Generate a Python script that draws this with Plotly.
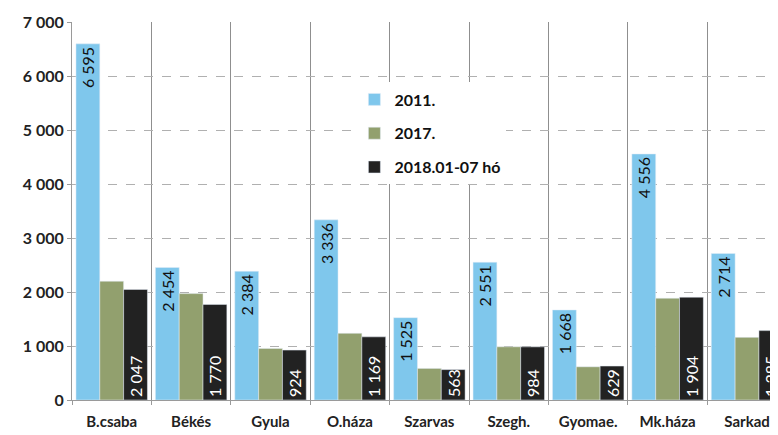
import plotly.graph_objects as go

categories = ["B.csaba", "Békés", "Gyula", "O.háza", "Szarvas", "Szegh.", "Gyomae.", "Mk.háza", "Sarkad"]
series_names = ["2011.", "2017.", "2018.01-07 hó"]
v2011 = [6595, 2454, 2384, 3336, 1525, 2551, 1668, 4556, 2714]
v2017 = [2200, 1970, 955, 1235, 585, 985, 615, 1885, 1160]
v2018 = [2047, 1770, 924, 1169, 563, 984, 629, 1904, 1285]
y_ticks = [0, 1000, 2000, 3000, 4000, 5000, 6000, 7000]

FONT = "Lato"
colors = ["#7FC7EC", "#92A06E", "#222222"]

fig = go.Figure()
fig.add_trace(go.Bar(
    x=categories, y=v2011, name=series_names[0], marker_color=colors[0],
    texttemplate="%{y:,d}", textposition="inside", insidetextanchor="end",
    textangle=-90, textfont=dict(family=FONT, size=16, color="#111111"),
    legendgroup="a"))
fig.add_trace(go.Bar(
    x=categories, y=v2017, name=series_names[1], marker_color=colors[1],
    legendgroup="b"))
fig.add_trace(go.Bar(
    x=categories, y=v2018, name=series_names[2], marker_color=colors[2],
    texttemplate="%{y:,d}", textposition="inside", insidetextanchor="start",
    textangle=-90, textfont=dict(family=FONT, size=16, color="#ffffff"),
    legendgroup="c"))

fig.update_layout(
    width=770, height=427,
    margin=dict(l=64, r=0, t=14, b=35, autoexpand=False),
    paper_bgcolor="white", plot_bgcolor="white",
    barmode="group", bargap=0.1, bargroupgap=0,
    separators=", ",
    uniformtext=dict(minsize=16, mode="show"),
    font=dict(family=FONT, size=14, color="#222222"),
    legend=dict(x=0.40, y=0.84, xanchor="left", yanchor="top",
                bgcolor="white",
                font=dict(family=FONT, size=16, color="#111111", weight="bold"),
                itemwidth=30, tracegroupgap=10, traceorder="grouped"),
    xaxis=dict(range=[-0.5, 8.39], tickson="boundaries", showgrid=True,
               gridcolor="#8f8f8f", gridwidth=1, showline=True, linecolor="#9a9a9a",
               ticks="outside", ticklen=4, tickcolor="#9a9a9a", automargin=False,
               ticklabelstandoff=8,
               tickfont=dict(family=FONT, size=15, color="#222222", weight="bold")),
    yaxis=dict(range=[0, 7000], tickvals=y_ticks, tickformat=",d",
               showgrid=True, gridcolor="#b0b0b0", griddash="dash", gridwidth=1,
               showline=True, linecolor="#9a9a9a", ticks="outside", ticklen=4,
               tickcolor="#9a9a9a", zeroline=False, automargin=False,
               tickfont=dict(family=FONT, size=16, color="#222222", weight="bold")),
)

fig.write_html("out.html")
